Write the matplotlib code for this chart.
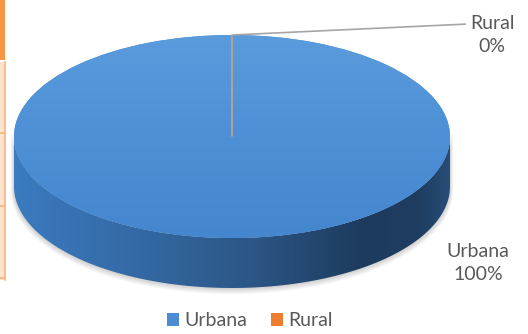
import numpy as np
import matplotlib
matplotlib.use("Agg")
import matplotlib.pyplot as plt
from matplotlib.patches import Polygon, Rectangle
from matplotlib.colors import LinearSegmentedColormap

categories = ["Urbana", "Rural"]
values = [100, 0]
colors = ["#4A8DD4", "#ED7D31"]

plt.rcParams['font.family'] = ['Lato', 'DejaVu Sans']
TXT = "#595959"
FS = 14

W, H = 528, 334
fig = plt.figure(figsize=(W / 100, H / 100), dpi=100)
fig.patch.set_facecolor("white")

# background axes in pixel coordinates
bg = fig.add_axes([0, 0, 1, 1])
bg.set_xlim(0, W)
bg.set_ylim(H, 0)
bg.axis("off")

# left page fragment (table edge)
bg.add_patch(Rectangle((0, 0), 5, 60, facecolor="#F79646", edgecolor="none"))
bg.add_patch(Rectangle((0, 62), 4, 218, facecolor="#FCE4D0", edgecolor="none"))
bg.plot([4.5, 4.5], [62, 280], color="#F7B27A", lw=1.2)
for yy in [133, 206, 278]:
    bg.plot([0, 5], [yy, yy], color="#F7B27A", lw=1.2)

# ellipse geometry (pixels)
cx, cy, a, b, depth = 232, 136.5, 218, 101.5, 50
t = np.linspace(0, np.pi, 200)
top_x = cx + a * np.cos(t)
top_y = cy + b * np.sin(t)
px = np.concatenate([top_x, top_x[::-1]])
py = np.concatenate([top_y, (top_y + depth)[::-1]])

# soft shadow
for k in range(1, 6):
    sx = cx + (a + k * 0.6) * np.cos(t)
    sy = cy + depth + k * 0.9 + (b + k * 0.3) * np.sin(t)
    shp = np.column_stack([np.concatenate([sx, sx[::-1]]),
                           np.concatenate([sy, (sy - 60)[::-1]])])
    bg.add_patch(Polygon(shp, closed=True, facecolor="black", edgecolor="none",
                         alpha=0.035, zorder=1))

side = Polygon(np.column_stack([px, py]), closed=True, facecolor="none", edgecolor="none")
bg.add_patch(side)
cmap = LinearSegmentedColormap.from_list(
    "side", [(0, "#3B7BC0"), (0.3, "#3468A2"), (0.55, "#2B5685"),
             (0.8, "#1D3B5E"), (0.93, "#1E3D61"), (1, "#284D76")])
grad = np.linspace(0, 1, 256).reshape(1, -1)
im = bg.imshow(grad, cmap=cmap, extent=(cx - a, cx + a, cy + b + depth, cy),
               aspect="auto", zorder=2)
im.set_clip_path(side)
bg.set_xlim(0, W)
bg.set_ylim(H, 0)

# top face: pie
pax = fig.add_axes([(cx - a) / W, 1 - (cy + b) / H, 2 * a / W, 2 * b / H])
pax.patch.set_alpha(0)
wedges, _ = pax.pie(values, colors=colors, startangle=90, counterclock=False,
                    radius=1, wedgeprops=dict(linewidth=0))
# gentle vertical shading on the Urbana face
topmap = LinearSegmentedColormap.from_list("top", ["#4587CF", "#4D90D6", "#5A9BDC"])
vgrad = np.linspace(0, 1, 256).reshape(-1, 1)
tim = pax.imshow(vgrad, cmap=topmap, extent=(-1, 1, -1, 1), origin="lower",
                 aspect="auto", zorder=wedges[0].get_zorder() + 0.1)
tim.set_clip_path(wedges[0])
wedges[1].set_edgecolor("#C9A287")
wedges[1].set_linewidth(1.2)
wedges[1].set_zorder(wedges[0].get_zorder() + 0.2)
pax.set_aspect("auto")
pax.set_xlim(-1, 1)
pax.set_ylim(-1, 1)
pax.axis("off")

# data labels
total = sum(values)
ang = np.deg2rad(90 - 360 * (values[0] + values[1] / 2) / total)
pax.annotate(f"{categories[1]}\n{values[1] / total * 100:.0f}%",
             xy=(np.cos(ang), np.sin(ang)), xycoords="data",
             xytext=(492 / W, 1 - 35 / H), textcoords="figure fraction",
             ha="center", va="center", fontsize=FS, color=TXT, linespacing=1.45,
             arrowprops=dict(arrowstyle="-", color="#A6A6A6", lw=1.2,
                             shrinkA=0, shrinkB=0,
                             relpos=(-0.1, 0.77)))
fig.text(478 / W, 1 - 263 / H,
         f"{categories[0]}\n{values[0] / total * 100:.0f}%",
         ha="center", va="center", fontsize=FS, color=TXT, linespacing=1.45)

handles = [Rectangle((0, 0), 1, 1, facecolor=c, edgecolor="none") for c in colors]
fig.legend(handles, categories, loc="center", bbox_to_anchor=(250 / W, 1 - 321 / H),
           ncol=2, frameon=False, fontsize=FS, labelcolor=TXT,
           handlelength=0.6, handleheight=0.6, handletextpad=0.3, columnspacing=1.2,
           borderpad=0, borderaxespad=0)

fig.savefig("out.png", dpi=100)
